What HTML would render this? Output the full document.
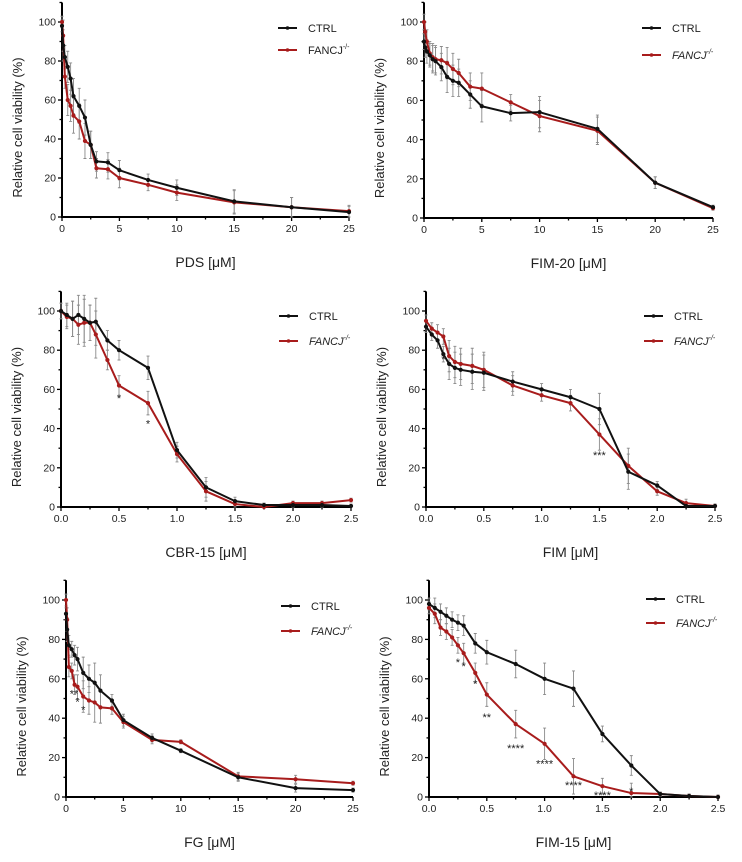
<!DOCTYPE html>
<html><head><meta charset="utf-8"><style>
html,body{margin:0;padding:0;background:#fff;}
svg{display:block;font-family:"Liberation Sans",Arial,sans-serif;}
</style></head><body>
<svg id="fig" width="742" height="862" viewBox="0 0 742 862" xmlns="http://www.w3.org/2000/svg"></svg>
<script>
// ---------- Panel data ----------
const xLog25 = [0,0.1,0.25,0.5,0.75,1,1.5,2,2.5,3,4,5,7.5,10,15,20,25];
const xLin25 = [0,0.05,0.1,0.15,0.2,0.25,0.3,0.4,0.5,0.75,1,1.25,1.5,1.75,2,2.25,2.5];

const pdsCtrl  = [98,88,82,77,71,62,57,51,37,28.5,28,24,19,15,8,5,2.5];
const pdsFancj = [100,93,72,60,57,52,49,39,37,25,24.5,20,16.5,12.5,7.5,5,3];
const pdsErr   = [3,8,6,8,8,9,9,9,7,5,5,5,3,4,6,5,3];

const fim20Ctrl  = [90,87,85,83,81,80,77,72,70,69,63,57,53.5,54,45.5,18,5.5];
const fim20Fancj = [100,95,90,84,82,81,80.5,79,76,74,67,66,59,52,44.5,18,5];
const fim20Err   = [4,5,6,6,7,7,7,8,8,7,7,8,4,8,7,3,1];

const cbrCtrl  = [100,98,96,98,96,94,94.5,85,80,71,29,10,3,1,1,1,0.5];
const cbrFancj = [100,97,96,93,94,94,88,75,62,53,27,8,1.5,0,2,2,3.5];
const cbrErr   = [4,6,9,10,12,9,12,5,5,6,4,5,2,1,1,1,1];
const cbrStars = [[0.5,56,"*"],[0.75,43,"*"]];

const fimCtrl  = [92,88,85,78,73,71,70,69,68.5,64,60,56,50,18,11,0.5,0.5];
const fimFancj = [95,91,89,87,77,74,73,72,70,62,57,53,37,21,8,2,0.5];
const fimErr   = [3,3,4,4,8,8,8,9,9,5,3,4,8,9,2,2,1];
const fimStars = [[0.15,76,"*"],[1.5,27,"***"]];

const fgCtrl  = [93,85,77,75,72,70,63,60,58,54,49,39,30,23.5,10,4.5,3.5];
const fgFancj = [100,90,66,64,57,56,51,49,48,45.5,45,38,29,28,10.5,9,7];
const fgErr   = [3,6,5,4,5,6,8,7,10,8,3,3,2,1,2,2,1];
const fgStars = [[0.7,53,"**"],[1,49,"*"],[1.5,45,"*"]];

const f15Ctrl  = [98,96,94,92,90,88.5,87,78,73.5,67.5,60,55,32,16,1.5,0.5,0];
const f15Fancj = [96,93,86,84,81,77,73,63,52,37,27,10.5,5.5,2,1.5,0.5,0];
const f15Err   = [3,5,4,4,4,4,5,5,6,7,8,9,4,5,1,1,1];
const f15Stars = [[0.25,69,"*"],[0.3,67,"*"],[0.4,58,"*"],[0.5,41,"**"],[0.75,25.5,"****"],[1.0,17.5,"****"],[1.25,6.5,"****"],[1.5,1.5,"****"],[1.75,3.5,"*"]];

const yTicks = [0,20,40,60,80,100];
const xTicks25 = ["0","5","10","15","20","25"];
const xTicks2p5 = ["0.0","0.5","1.0","1.5","2.0","2.5"];

const NS="http://www.w3.org/2000/svg";
const svg=document.getElementById('fig');
function mk(tag,attrs,parent){const e=document.createElementNS(NS,tag);for(const k in attrs)e.setAttribute(k,attrs[k]);(parent||svg).appendChild(e);return e;}

function panel(p){
  const g=mk('g',{});
  
  
  const sx=v=>p.x0+(v/p.xmax)*(p.x1-p.x0);
  const sy=v=>p.y0-(v/100)*(p.y0-p.y100);
  const topY=sy(110);
  const ya=mk('line',{x1:p.x0,y1:topY,x2:p.x0,y2:p.y0,stroke:'#000','stroke-width':2},g);
  
  
  const xa=mk('line',{x1:p.x0-1,y1:p.y0,x2:p.x1,y2:p.y0,stroke:'#000','stroke-width':2},g);
  
  
  for(let v=0;v<=110;v+=10){
    const major=v%20===0&&v<=100;
    mk('line',{x1:p.x0-(major?4:2.5),y1:sy(v),x2:p.x0,y2:sy(v),stroke:'#000','stroke-width':1.3},g);
  }
  yTicks.forEach(v=>{
    const t=mk('text',{x:p.x0-6,y:sy(v)+3.5,'font-size':10.5,'text-anchor':'end',fill:'#222'},g);
    t.textContent=v;
    
    
  });
  const labs=p.xmax===25?xTicks25:xTicks2p5;
  const minorStep=p.xmax===25?2.5:0.25;
  for(let v=0;v<=p.xmax+1e-9;v+=minorStep){
    const major=Math.abs((v/(p.xmax/5))-Math.round(v/(p.xmax/5)))<1e-6;
    mk('line',{x1:sx(v),y1:p.y0,x2:sx(v),y2:p.y0+(major?4:2.5),stroke:'#000','stroke-width':1.3},g);
  }
  labs.forEach((l,i)=>{
    const t=mk('text',{x:sx(i*p.xmax/5),y:p.y0+15,'font-size':10.5,'text-anchor':'middle',fill:'#222'},g);
    t.textContent=l;
    
    
  });
  const yt=mk('text',{x:0,y:0,'font-size':13,'text-anchor':'middle',fill:'#222',transform:`translate(${p.x0-40},${(p.y0+p.y100)/2+8}) rotate(-90)`},g);
  yt.textContent='Relative cell viability (%)';
  
  
  const xt=mk('text',{x:(p.x0+p.x1)/2,y:p.y0+50,'font-size':14,'text-anchor':'middle',fill:'#222'},g);
  xt.textContent=p.label+' [\u03bcM]';
  
  
  const series=[[p.fancj,'#a81c1c','fancj'],[p.ctrl,'#111','ctrl']];
  series.forEach(([vals,col,nm])=>{
    vals.forEach((v,i)=>{
      const e=p.err[i];const x=sx(p.xs[i]);
      const b=mk('path',{d:`M${x},${sy(v+e)}V${sy(Math.max(0,v-e))}M${x-1.5},${sy(v+e)}H${x+1.5}M${x-1.5},${sy(Math.max(0,v-e))}H${x+1.5}`,stroke:'#8a8a8a','stroke-width':0.9,fill:'none'},g);
      
      
    });
  });
  series.forEach(([vals,col,nm])=>{
    const pts=vals.map((v,i)=>sx(p.xs[i])+','+sy(v)).join(' ');
    const l=mk('polyline',{points:pts,fill:'none',stroke:col,'stroke-width':2,'stroke-linejoin':'round'},g);
    
    
    vals.forEach((v,i)=>{
      const c=mk('circle',{cx:sx(p.xs[i]),cy:sy(v),r:1.8,fill:col,stroke:col,'stroke-width':0.6},g);
      
      
    });
  });
  (p.stars||[]).forEach(([xv,yv,s])=>{
    const t=mk('text',{x:sx(xv),y:sy(yv)+5,'font-size':11,'text-anchor':'middle',fill:'#222'},g);
    t.textContent=s;
    
    
  });
  [[p.legY,'#111','CTRL',false],[p.legY+p.legGap,'#a81c1c','FANCJ',true]].forEach(([y,col,txt,sup])=>{
    const lg=mk('g',{},g);
    
    
    mk('line',{x1:p.legX,y1:y,x2:p.legX+19,y2:y,stroke:col,'stroke-width':2},lg);
    mk('circle',{cx:p.legX+9.5,cy:y,r:1.8,fill:col},lg);
    const t=mk('text',{x:p.legX+30,y:y+4,'font-size':11,fill:'#222','font-style':(sup&&p.italic)?'italic':'normal'},lg);
    t.textContent=txt;
    if(sup){const s=mk('tspan',{'font-size':7,dy:-5},t);s.textContent='-/-';}
  });
}

panel({name:'pds',label:'PDS',xs:xLog25,xmax:25,ctrl:pdsCtrl,fancj:pdsFancj,err:pdsErr,x0:62,x1:349,y100:22,y0:217,legX:278,legY:28,legGap:22,italic:false});
panel({name:'fim-20',label:'FIM-20',xs:xLog25,xmax:25,ctrl:fim20Ctrl,fancj:fim20Fancj,err:fim20Err,x0:424,x1:713,y100:22,y0:218,legX:642,legY:28,legGap:27,italic:true});
panel({name:'cbr-15',label:'CBR-15',xs:xLin25,xmax:2.5,ctrl:cbrCtrl,fancj:cbrFancj,err:cbrErr,stars:cbrStars,x0:61,x1:351,y100:311,y0:507,legX:279,legY:316,legGap:25,italic:true});
panel({name:'fim',label:'FIM',xs:xLin25,xmax:2.5,ctrl:fimCtrl,fancj:fimFancj,err:fimErr,stars:fimStars,x0:426,x1:715,y100:311,y0:507,legX:644,legY:316,legGap:25,italic:true});
panel({name:'fg',label:'FG',xs:xLog25,xmax:25,ctrl:fgCtrl,fancj:fgFancj,err:fgErr,stars:fgStars,x0:66,x1:353,y100:600,y0:797,legX:281,legY:606,legGap:25,italic:true});
panel({name:'fim-15',label:'FIM-15',xs:xLin25,xmax:2.5,ctrl:f15Ctrl,fancj:f15Fancj,err:f15Err,stars:f15Stars,x0:429,x1:718,y100:600,y0:797,legX:646,legY:599,legGap:24,italic:true});
</script>
</body></html>
